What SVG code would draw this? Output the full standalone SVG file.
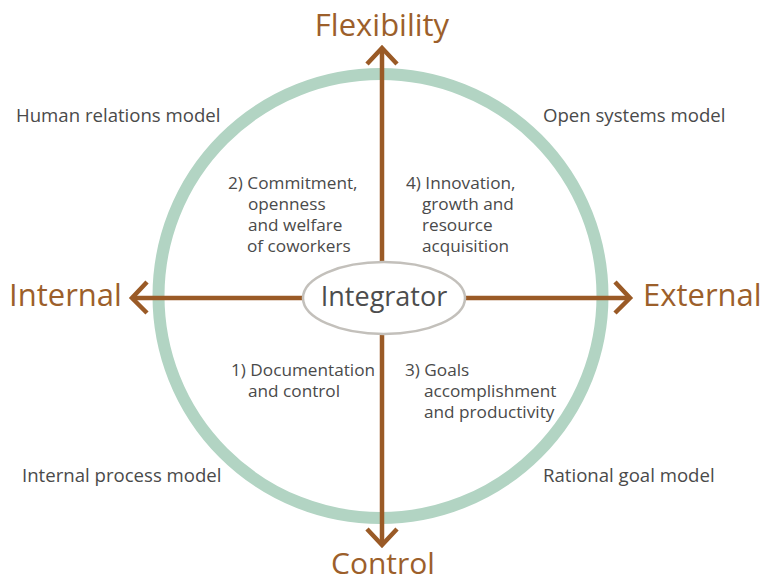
<svg xmlns="http://www.w3.org/2000/svg" width="764" height="583" viewBox="0 0 764 583">
<style>
.axis{font-family:"Open Sans","Noto Sans","DejaVu Sans",sans-serif;font-size:31px;fill:#9c5f2b}
.lbl{font-family:"Open Sans","Noto Sans","DejaVu Sans",sans-serif;font-size:17.2px;fill:#4a4a4a}
.mdl{font-family:"Open Sans","Noto Sans","DejaVu Sans",sans-serif;font-size:18.6px;fill:#4a4a4a}
.arr{stroke:#9a5a26;stroke-width:4.5;fill:none}
.head{stroke:#9a5a26;stroke-width:4.5;fill:none;stroke-linejoin:miter;stroke-linecap:butt}
</style>
<rect width="764" height="583" fill="#ffffff"/>
<g id="ring">
<circle cx="380.5" cy="296" r="222" fill="none" stroke="#b2d4c3" stroke-width="12"/>
</g>
<g id="connectors">
<line class="arr" x1="382" y1="50" x2="382" y2="544"/>
<line class="arr" x1="134" y1="298" x2="629" y2="298"/>
<polyline class="head" points="367,64 382,48 397,64"/>
<polyline class="head" points="367,529 382,545 397,529"/>
<polyline class="head" points="147,282 132,298 147,313"/>
<polyline class="head" points="615,282 630,298 615,313"/>
</g>
<g id="integrator">
<ellipse cx="384" cy="298" rx="81" ry="36" fill="#ffffff" stroke="#c3c0bb" stroke-width="2.5"/>
<text x="384" y="306" text-anchor="middle" font-family="Open Sans, Noto Sans, sans-serif" font-size="27" fill="#4d4d4d">Integrator</text>
</g>
<g id="flexibility"><text class="axis" x="382" y="36" text-anchor="middle">Flexibility</text></g>
<g id="control"><text class="axis" x="383" y="574" text-anchor="middle" style="font-size:30px">Control</text></g>
<g id="internal"><text class="axis" x="9" y="306">Internal</text></g>
<g id="external"><text class="axis" x="643" y="306">External</text></g>
<g id="human-relations"><text class="mdl" x="16" y="122">Human relations model</text></g>
<g id="open-systems"><text class="mdl" x="543" y="122">Open systems model</text></g>
<g id="internal-process"><text class="mdl" x="22" y="482">Internal process model</text></g>
<g id="rational-goal"><text class="mdl" x="543" y="482">Rational goal model</text></g>
<g id="q2">
<text class="lbl" x="228" y="189">2) Commitment,</text>
<text class="lbl" x="248" y="210">openness</text>
<text class="lbl" x="248" y="231">and welfare</text>
<text class="lbl" x="247" y="252">of coworkers</text>
</g>
<g id="q4">
<text class="lbl" x="406" y="189">4) Innovation,</text>
<text class="lbl" x="422" y="210">growth and</text>
<text class="lbl" x="422" y="231">resource</text>
<text class="lbl" x="422" y="252">acquisition</text>
</g>
<g id="q1">
<text class="lbl" x="231" y="376">1) Documentation</text>
<text class="lbl" x="248" y="397">and control</text>
</g>
<g id="q3">
<text class="lbl" x="405" y="376">3) Goals</text>
<text class="lbl" x="424" y="397">accomplishment</text>
<text class="lbl" x="424" y="418">and productivity</text>
</g>
</svg>
